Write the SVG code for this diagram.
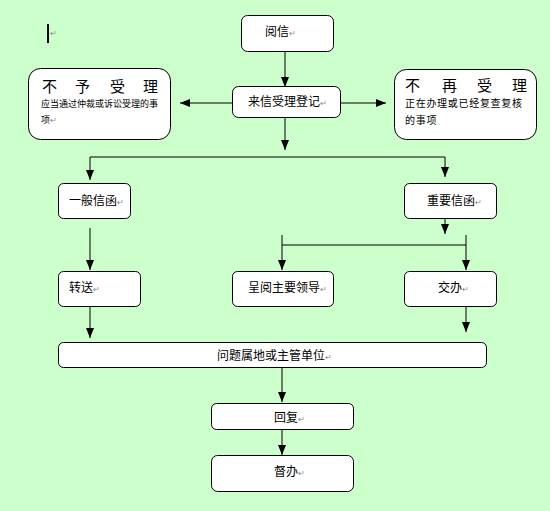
<svg xmlns="http://www.w3.org/2000/svg" width="550" height="511" viewBox="0 0 550 511">
<style>
.box{fill:#fff;stroke:#000;stroke-width:1}
.t{font-family:"Noto Sans CJK SC","Noto Sans CJK JP",sans-serif;font-size:12px;fill:#000}
.big{font-family:"Noto Sans CJK SC",sans-serif;font-size:15px;fill:#000}
.s{font-family:"Noto Sans CJK SC",sans-serif;font-size:9px;fill:#000}
.m{font-size:8px;fill:#888}
.ln{stroke:#000;stroke-width:1;fill:none}
.arr{stroke:#000;stroke-width:1;fill:none;marker-end:url(#ah)}
</style>
<defs>
<marker id="ah" markerUnits="userSpaceOnUse" markerWidth="10" markerHeight="10" viewBox="0 0 10 10" refX="10" refY="5" orient="auto">
<path d="M0,1 L10,5 L0,9 Z" fill="#000"/>
</marker>
</defs>
<rect x="0" y="0" width="550" height="511" fill="#ccffcc"/>
<g id="cursor">
<rect x="47" y="24" width="2" height="19" fill="#000"/>
<text x="50" y="36" class="t m">↵</text>
</g>
<g id="connectors">
<line class="arr" x1="285" y1="52" x2="285" y2="87"/>
<line class="arr" x1="232" y1="103" x2="180" y2="103"/>
<line class="arr" x1="340" y1="103" x2="386" y2="103"/>
<line class="arr" x1="285" y1="117" x2="285" y2="150"/>
<line class="ln" x1="90" y1="157" x2="445" y2="157"/>
<line class="arr" x1="90" y1="157" x2="90" y2="180"/>
<line class="arr" x1="445" y1="157" x2="445" y2="177"/>
<line class="arr" x1="90" y1="228" x2="90" y2="270"/>
<line class="arr" x1="445" y1="218" x2="445" y2="234"/>
<line class="ln" x1="282" y1="245" x2="466" y2="245"/>
<line class="arr" x1="282" y1="235" x2="282" y2="270"/>
<line class="arr" x1="466" y1="235" x2="466" y2="270"/>
<line class="arr" x1="90" y1="306" x2="90" y2="338"/>
<line class="arr" x1="466" y1="306" x2="466" y2="332"/>
<line class="arr" x1="282" y1="367" x2="282" y2="402"/>
<line class="arr" x1="282" y1="417" x2="282" y2="455"/>
</g>
<g id="n-yuexin">
<rect class="box" x="241.5" y="15.5" width="92" height="36" rx="6"/>
<text class="t" x="265" y="36">阅信<tspan class="m">↵</tspan></text>
</g>
<g id="n-dengji">
<rect class="box" x="232.5" y="86.5" width="108" height="31" rx="6"/>
<text class="t" x="248" y="106">来信受理登记<tspan class="m">↵</tspan></text>
</g>
<g id="n-buyu">
<rect class="box" x="28.5" y="68.5" width="142" height="71" rx="12"/>
<text class="big" y="92"><tspan x="42">不</tspan><tspan x="75">予</tspan><tspan x="110">受</tspan><tspan x="143">理</tspan></text>
<text class="s" x="41" y="107">应当通过仲裁或诉讼受理的事</text>
<text class="s" x="41" y="123">项<tspan class="m">↵</tspan></text>
</g>
<g id="n-buzai">
<rect class="box" x="394.5" y="69.5" width="142" height="70" rx="12"/>
<text class="big" y="91"><tspan x="405">不</tspan><tspan x="442">再</tspan><tspan x="477">受</tspan><tspan x="512">理</tspan></text>
<text class="s" x="405" y="107" style="font-size:10px;letter-spacing:0.7px">正在办理或已经复查复核</text>
<text class="s" x="405" y="124" style="font-size:10px;letter-spacing:0.7px">的事项</text>
</g>
<g id="n-yiban">
<rect class="box" x="58.5" y="183.5" width="72" height="35" rx="5"/>
<text class="t" x="69" y="205">一般信函<tspan class="m">↵</tspan></text>
</g>
<g id="n-zhongyao">
<rect class="box" x="404.5" y="183.5" width="92" height="35" rx="5"/>
<text class="t" x="427" y="205">重要信函<tspan class="m">↵</tspan></text>
</g>
<g id="n-zhuansong">
<rect class="box" x="58.5" y="271.5" width="82" height="35" rx="5"/>
<text class="t" x="69" y="292">转送<tspan class="m">↵</tspan></text>
</g>
<g id="n-chengyue">
<rect class="box" x="232.5" y="271.5" width="101" height="35" rx="5"/>
<text class="t" x="248" y="292">呈阅主要领导<tspan class="m">↵</tspan></text>
</g>
<g id="n-jiaoban">
<rect class="box" x="404.5" y="271.5" width="92" height="35" rx="5"/>
<text class="t" x="438" y="292">交办<tspan class="m">↵</tspan></text>
</g>
<g id="n-shudi">
<rect class="box" x="58.5" y="342.5" width="428" height="25" rx="5"/>
<text class="t" x="217" y="360">问题属地或主管单位<tspan class="m">↵</tspan></text>
</g>
<g id="n-huifu">
<rect class="box" x="211.5" y="403.5" width="142" height="26" rx="5"/>
<text class="t" x="274" y="422">回复<tspan class="m">↵</tspan></text>
</g>
<g id="n-duban">
<rect class="box" x="211.5" y="455.5" width="142" height="36" rx="6"/>
<text class="t" x="274" y="476">督办<tspan class="m">↵</tspan></text>
</g>
</svg>
